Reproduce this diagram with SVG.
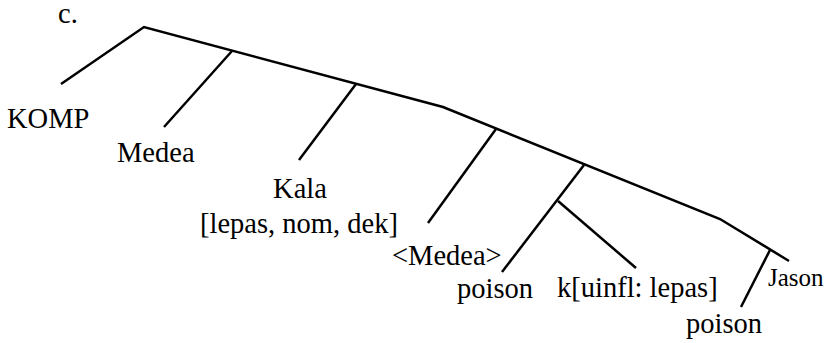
<svg xmlns="http://www.w3.org/2000/svg" width="835" height="343" viewBox="0 0 835 343">
<style>
.t{font-family:"Liberation Serif","Times New Roman",serif;font-size:28.5px;fill:#000}
.s{font-size:25px}
.e{stroke:#000;stroke-width:2.5;fill:none;stroke-linecap:butt;stroke-linejoin:miter}
</style>
<rect width="835" height="343" fill="#fff"/>
<g id="connectors">
<polyline class="e" points="61,84 144,27 443,107 720,219 789,261"/>
<line class="e" x1="232" y1="51" x2="164" y2="127"/>
<line class="e" x1="356" y1="84" x2="299" y2="160"/>
<line class="e" x1="496" y1="129" x2="428" y2="223"/>
<line class="e" x1="584" y1="165" x2="502" y2="272"/>
<line class="e" x1="558" y1="201" x2="636" y2="268"/>
<line class="e" x1="770" y1="250" x2="741" y2="307"/>
</g>
<g id="label-c"><text class="t" x="58" y="23">c.</text></g>
<g id="node-komp"><text class="t" x="7" y="128">KOMP</text></g>
<g id="node-medea"><text class="t" x="117" y="162">Medea</text></g>
<g id="node-kala"><text class="t" x="300" y="198" text-anchor="middle">Kala</text><text class="t" x="299" y="233" text-anchor="middle">[lepas, nom, dek]</text></g>
<g id="node-medea-trace"><text class="t" x="392" y="265">&lt;Medea&gt;</text></g>
<g id="node-poison1"><text class="t" x="457" y="298">poison</text></g>
<g id="node-k"><text class="t" x="557" y="297">k[uinfl: lepas]</text></g>
<g id="node-jason"><text class="t s" x="768" y="286">Jason</text></g>
<g id="node-poison2"><text class="t" x="686" y="333">poison</text></g>
</svg>
